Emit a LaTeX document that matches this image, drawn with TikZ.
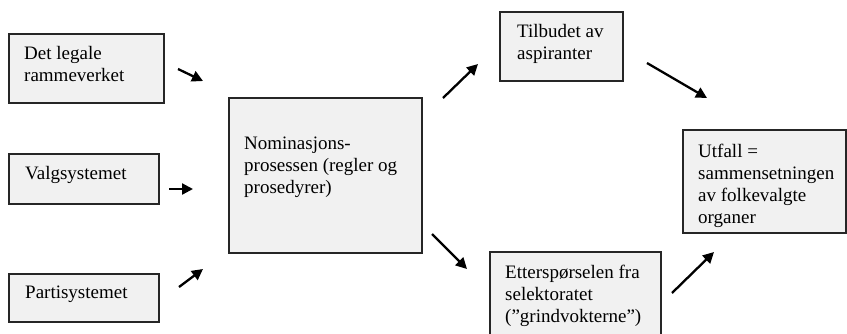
\documentclass[tikz,border=0pt]{standalone}
\usepackage{fontspec}
\setmainfont{Liberation Serif}
\usetikzlibrary{arrows.meta,calc}
\definecolor{boxfill}{HTML}{F1F1F1}
\definecolor{boxline}{HTML}{262626}
\begin{document}
\begin{tikzpicture}[x=1pt,y=-1pt,
  box/.style={draw=boxline, line width=1.3pt, fill=boxfill, inner sep=0pt, outer sep=0pt, anchor=north west},
  lbl/.style={align=left, inner sep=0pt, font=\fontsize{19}{22}\selectfont, anchor=base west},
  arr/.style={line width=2.3pt, -{Triangle[length=11pt,width=11pt]}}]
\useasboundingbox (0,0) rectangle (847,333);
% boxes
\node[box, minimum width=155, minimum height=69] (legal) at (9,34) {};
\node[box, minimum width=150, minimum height=50] (valg) at (9,154) {};
\node[box, minimum width=150, minimum height=48] (parti) at (9,274) {};
\node[box, minimum width=193, minimum height=155] (nom) at (229,98) {};
\node[box, minimum width=123, minimum height=69] (tilbud) at (500,12) {};
\node[box, minimum width=163, minimum height=103] (utfall) at (683,130) {};
\node[box, minimum width=171, minimum height=90] (etter) at (490,252) {};
% labels (base = baseline of the last line)
\node[lbl] (legalt) at ($(legal.north west)+(15,47)$) {Det legale\\rammeverket};
\node[lbl] (valgt) at ($(valg.north west)+(16,25)$) {Valgsystemet};
\node[lbl] (partit) at ($(parti.north west)+(16,24)$) {Partisystemet};
\node[lbl] (nomt) at ($(nom.north west)+(15,95)$) {Nominasjons-\\prosessen (regler og\\prosedyrer)};
\node[lbl] (tilbudt) at ($(tilbud.north west)+(17,47)$) {Tilbudet av\\aspiranter};
\node[lbl] (utfallt) at ($(utfall.north west)+(15,93)$) {Utfall =\\sammensetningen\\av folkevalgte\\organer};
\node[lbl] (ettert) at ($(etter.north west)+(15,70)$) {Etterspørselen fra\\selektoratet\\(”grindvokterne”)};
% arrow end points
\coordinate (a1s) at (178,69);  \coordinate (a1e) at (203,81);
\coordinate (a2s) at (169,189); \coordinate (a2e) at (193,189);
\coordinate (a3s) at (179,287); \coordinate (a3e) at (203,269);
\coordinate (a4s) at (443,98);  \coordinate (a4e) at (478,64);
\coordinate (a5s) at (432,234); \coordinate (a5e) at (467,269);
\coordinate (a6s) at (647,63);  \coordinate (a6e) at (707,98);
\coordinate (a7s) at (672,293); \coordinate (a7e) at (714,252);
\draw[arr] (a1s) -- (a1e);
\draw[arr] (a2s) -- (a2e);
\draw[arr] (a3s) -- (a3e);
\draw[arr] (a4s) -- (a4e);
\draw[arr] (a5s) -- (a5e);
\draw[arr] (a6s) -- (a6e);
\draw[arr] (a7s) -- (a7e);
\end{tikzpicture}
\end{document}
